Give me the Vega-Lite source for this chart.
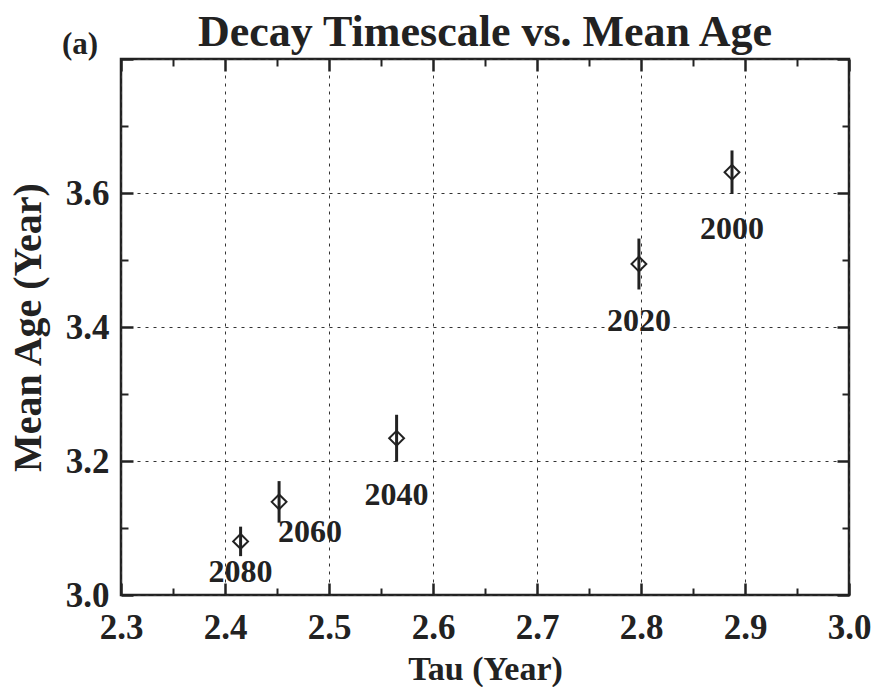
{
  "$schema": "https://vega.github.io/schema/vega-lite/v6.json",
  "width": 728,
  "height": 536,
  "autosize": "none",
  "padding": {"left": 121, "top": 59, "right": 28, "bottom": 92},
  "background": "white",
  "config": {
    "view": {"stroke": "#222", "strokeWidth": 2.5},
    "font": "Liberation Serif",
    "axis": {
      "domain": false,
      "labelFont": "Liberation Serif",
      "labelFontWeight": "bold",
      "labelFontSize": 35,
      "labelColor": "#222",
      "titleFont": "Liberation Serif",
      "titleFontWeight": "bold",
      "titleFontSize": 34,
      "titleColor": "#222",
      "tickColor": "#222",
      "gridColor": "#333",
      "gridDash": [3, 5],
      "gridWidth": 1
    }
  },
  "title": {
    "text": "Decay Timescale vs. Mean Age",
    "font": "Liberation Serif",
    "fontWeight": "bold",
    "fontSize": 44,
    "color": "#222",
    "anchor": "middle",
    "offset": -26
  },
  "data": {
    "values": [
      {"year": "2080", "tau": 2.415, "age": 3.080, "err": 0.022},
      {"year": "2060", "tau": 2.452, "age": 3.139, "err": 0.031},
      {"year": "2040", "tau": 2.565, "age": 3.234, "err": 0.035},
      {"year": "2020", "tau": 2.798, "age": 3.494, "err": 0.038},
      {"year": "2000", "tau": 2.8875, "age": 3.631, "err": 0.0325}
    ]
  },
  "resolve": {"axis": {"x": "independent", "y": "independent"}},
  "layer": [
    {
      "mark": {"type": "errorbar", "ticks": false, "thickness": 3, "color": "#222"},
      "encoding": {
        "x": {
          "field": "tau", "type": "quantitative",
          "scale": {"domain": [2.3, 3.0], "nice": false, "zero": false},
          "axis": {
            "orient": "top", "labels": false, "grid": false, "title": null,
            "values": [2.3, 2.35, 2.4, 2.45, 2.5, 2.55, 2.6, 2.65, 2.7, 2.75, 2.8, 2.85, 2.9, 2.95, 3.0],
            "tickSize": {"condition": {"test": "abs(datum.value*10 - round(datum.value*10)) < 0.001", "value": -12}, "value": -7},
            "tickWidth": {"condition": {"test": "abs(datum.value*10 - round(datum.value*10)) < 0.001", "value": 2.5}, "value": 2}
          }
        },
        "y": {
          "field": "age", "type": "quantitative",
          "scale": {"domain": [3.0, 3.8], "nice": false, "zero": false},
          "axis": {
            "orient": "right", "labels": false, "grid": false, "title": null,
            "values": [3.0, 3.1, 3.2, 3.3, 3.4, 3.5, 3.6, 3.7, 3.8],
            "tickSize": {"condition": {"test": "abs(datum.value*5 - round(datum.value*5)) < 0.001", "value": -12}, "value": -7},
            "tickWidth": {"condition": {"test": "abs(datum.value*5 - round(datum.value*5)) < 0.001", "value": 2.5}, "value": 2}
          }
        },
        "yError": {"field": "err"}
      }
    },
    {
      "mark": {"type": "point", "shape": "diamond", "size": 220, "filled": false, "stroke": "#222", "strokeWidth": 2, "opacity": 1},
      "encoding": {
        "x": {
          "field": "tau", "type": "quantitative",
          "scale": {"domain": [2.3, 3.0], "nice": false, "zero": false},
          "axis": {
            "orient": "bottom", "title": "Tau (Year)", "titlePadding": 2,
            "values": [2.3, 2.35, 2.4, 2.45, 2.5, 2.55, 2.6, 2.65, 2.7, 2.75, 2.8, 2.85, 2.9, 2.95, 3.0],
            "labelExpr": "abs(datum.value*10 - round(datum.value*10)) < 0.001 ? format(datum.value, '.1f') : ''",
            "labelPadding": 27,
            "labelFlush": false,
            "labelOverlap": false,
            "grid": true,
            "gridOpacity": {"condition": {"test": "abs(datum.value*10 - round(datum.value*10)) < 0.001", "value": 1}, "value": 0},
            "tickSize": {"condition": {"test": "abs(datum.value*10 - round(datum.value*10)) < 0.001", "value": -12}, "value": -7},
            "tickWidth": {"condition": {"test": "abs(datum.value*10 - round(datum.value*10)) < 0.001", "value": 2.5}, "value": 2}
          }
        },
        "y": {
          "field": "age", "type": "quantitative",
          "scale": {"domain": [3.0, 3.8], "nice": false, "zero": false},
          "axis": {
            "orient": "left", "title": "Mean Age (Year)", "titlePadding": 17, "titleFontSize": 40,
            "values": [3.0, 3.1, 3.2, 3.3, 3.4, 3.5, 3.6, 3.7, 3.8],
            "labelExpr": "abs(datum.value*5 - round(datum.value*5)) < 0.001 && datum.value < 3.75 ? format(datum.value, '.1f') : ''",
            "labelPadding": 24,
            "labelFlush": false,
            "labelOverlap": false,
            "grid": true,
            "gridOpacity": {"condition": {"test": "abs(datum.value*5 - round(datum.value*5)) < 0.001", "value": 1}, "value": 0},
            "tickSize": {"condition": {"test": "abs(datum.value*5 - round(datum.value*5)) < 0.001", "value": -12}, "value": -7},
            "tickWidth": {"condition": {"test": "abs(datum.value*5 - round(datum.value*5)) < 0.001", "value": 2.5}, "value": 2}
          }
        }
      }
    },
    {
      "transform": [{"filter": "datum.year == '2040' || datum.year == '2020' || datum.year == '2000'"}],
      "mark": {"type": "text", "font": "Liberation Serif", "fontWeight": "bold", "fontSize": 32, "color": "#222", "baseline": "middle", "align": "center", "dy": 57},
      "encoding": {
        "x": {"field": "tau", "type": "quantitative", "axis": null},
        "y": {"field": "age", "type": "quantitative", "axis": null},
        "text": {"field": "year"}
      }
    },
    {
      "transform": [{"filter": "datum.year == '2080'"}],
      "mark": {"type": "text", "font": "Liberation Serif", "fontWeight": "bold", "fontSize": 32, "color": "#222", "baseline": "middle", "align": "center", "dy": 31},
      "encoding": {
        "x": {"field": "tau", "type": "quantitative", "axis": null},
        "y": {"field": "age", "type": "quantitative", "axis": null},
        "text": {"field": "year"}
      }
    },
    {
      "transform": [{"filter": "datum.year == '2060'"}],
      "mark": {"type": "text", "font": "Liberation Serif", "fontWeight": "bold", "fontSize": 32, "color": "#222", "baseline": "middle", "align": "center", "dx": 31, "dy": 30},
      "encoding": {
        "x": {"field": "tau", "type": "quantitative", "axis": null},
        "y": {"field": "age", "type": "quantitative", "axis": null},
        "text": {"field": "year"}
      }
    },
    {
      "data": {"values": [{"panel": "(a)", "tau": 2.3, "age": 3.8}]},
      "mark": {"type": "text", "font": "Liberation Serif", "fontWeight": "bold", "fontSize": 31, "color": "#222", "baseline": "middle", "align": "center", "dx": -41, "dy": -14, "clip": false},
      "encoding": {
        "x": {"field": "tau", "type": "quantitative", "axis": null},
        "y": {"field": "age", "type": "quantitative", "axis": null},
        "text": {"field": "panel"}
      }
    }
  ]
}
